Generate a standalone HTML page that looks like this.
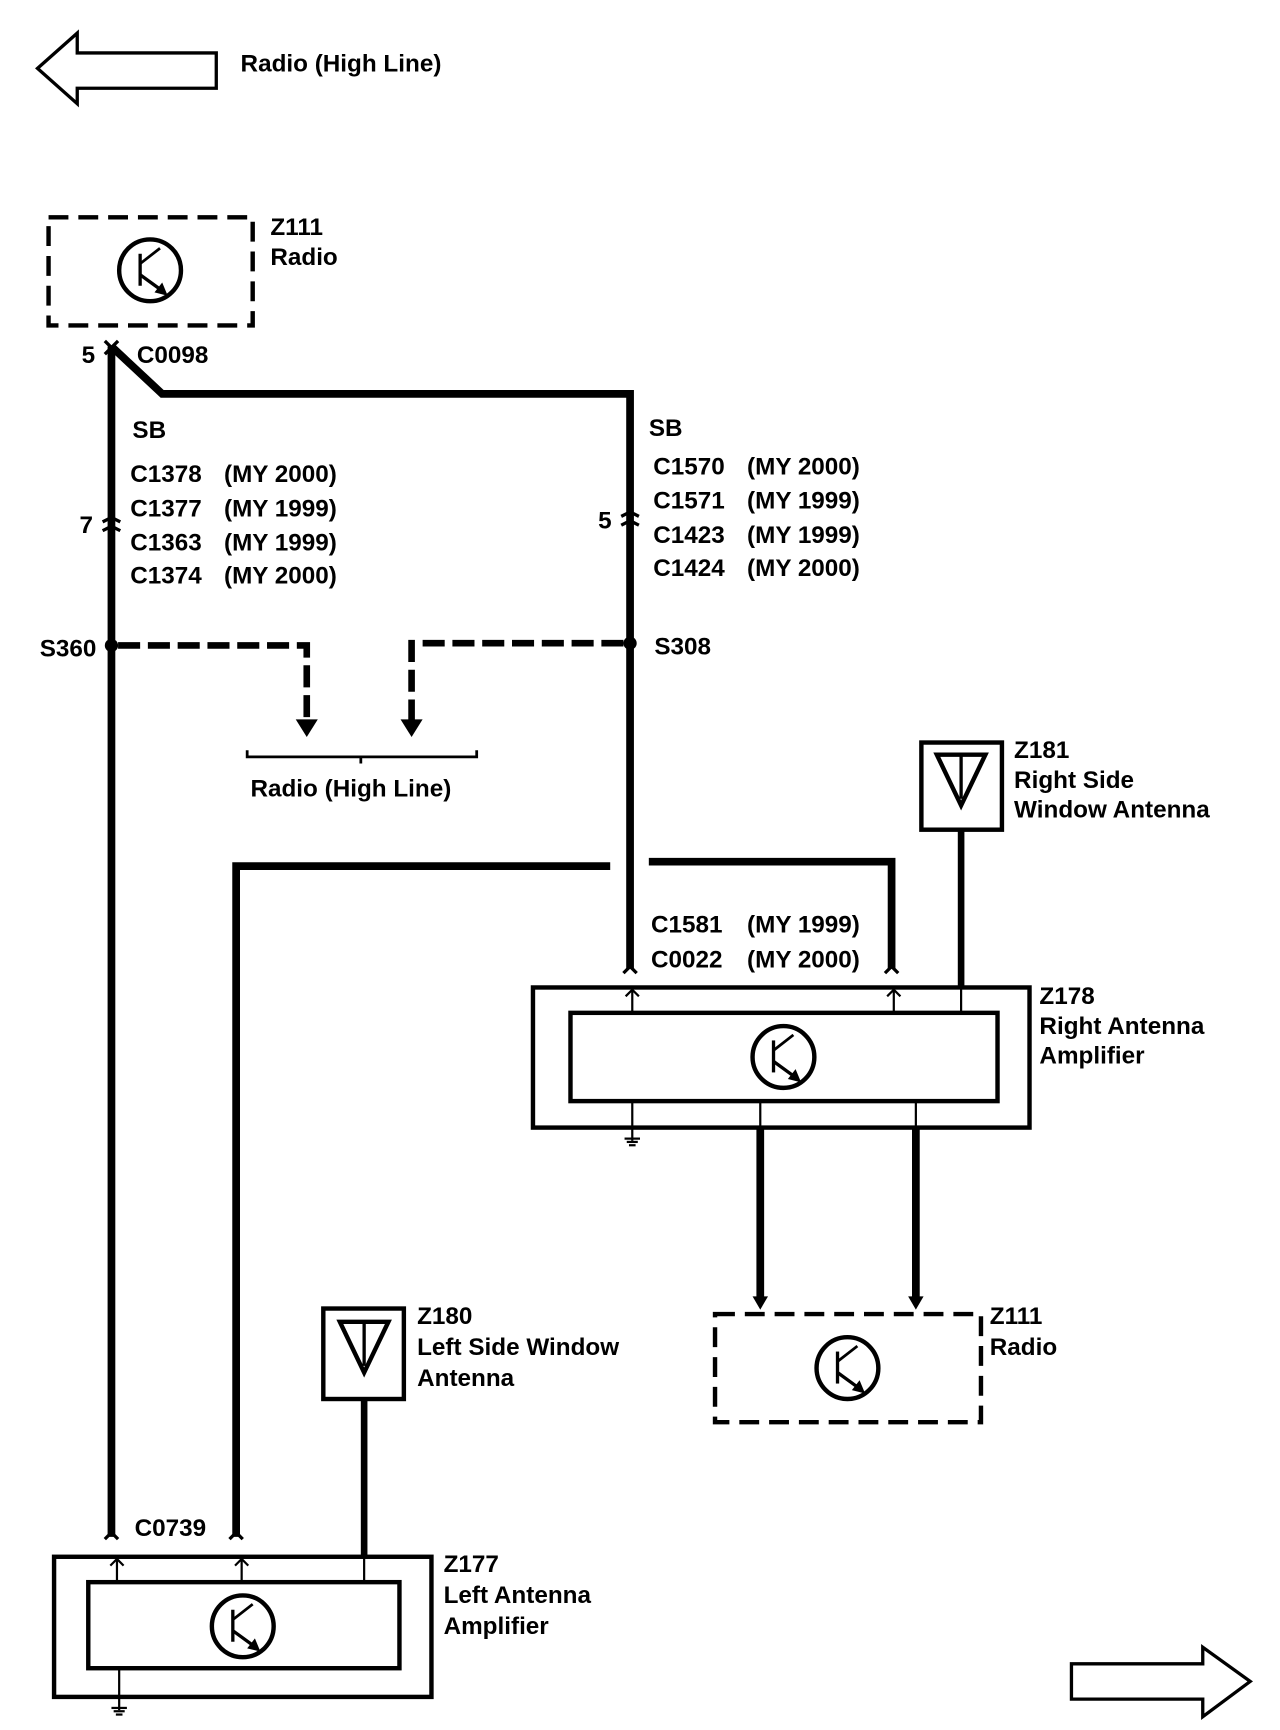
<!DOCTYPE html>
<html><head><meta charset="utf-8"><style>
html,body{margin:0;padding:0;background:#fff}
svg{display:block}
text{font-family:"Liberation Sans",sans-serif;font-weight:bold;font-size:22px;fill:#000}
</style></head><body>
<svg width="1280" height="1730" viewBox="0 0 1160 1568" preserveAspectRatio="none" xmlns="http://www.w3.org/2000/svg">
<defs>
<g id="tr">
<circle cx="0" cy="0" r="28" fill="none" stroke="#000" stroke-width="4"/>
<line x1="-9" y1="-15" x2="-9" y2="14" stroke="#000" stroke-width="3"/>
<line x1="-9" y1="-6" x2="9" y2="-20" stroke="#000" stroke-width="2.5"/>
<line x1="-9" y1="4" x2="13" y2="20" stroke="#000" stroke-width="3"/>
<polygon points="16,23 4,20 11,11" fill="#000"/>
</g>
<g id="ant">
<polygon points="-22,-26 22,-26 0,20" fill="none" stroke="#000" stroke-width="4"/>
<line x1="0" y1="-26" x2="0" y2="14" stroke="#000" stroke-width="3"/>
</g>
<g id="gnd">
<line x1="0" y1="0" x2="0" y2="12" stroke="#000" stroke-width="2"/>
<line x1="-7" y1="10" x2="7" y2="10" stroke="#000" stroke-width="2"/>
<line x1="-5" y1="13" x2="5" y2="13" stroke="#000" stroke-width="2"/>
<line x1="-3" y1="16" x2="3" y2="16" stroke="#000" stroke-width="2"/>
</g>
<g id="chev">
<path d="M-6,6 L0,0 L6,6" fill="none" stroke="#000" stroke-width="3"/>
</g>
</defs>

<polygon points="34,62 70,30 70,48 196,48 196,80 70,80 70,94" fill="none" stroke="#000" stroke-width="3"/>
<text x="218" y="65">Radio (High Line)</text>

<rect x="44" y="197" width="185" height="98" fill="none" stroke="#000" stroke-width="4" stroke-dasharray="18,9"/>
<use href="#tr" x="136" y="245"/>
<text x="245" y="213">Z111</text>
<text x="245" y="240">Radio</text>

<text x="74" y="329">5</text>
<text x="124" y="329">C0098</text>
<path d="M95,309 L107,321 M107,309 L95,321" stroke="#000" stroke-width="3"/>

<line x1="101" y1="314" x2="101" y2="1393" stroke="#000" stroke-width="7"/>
<polyline points="101,314 147,357 571,357 571,878" fill="none" stroke="#000" stroke-width="7"/>
<use href="#chev" x="101" y="1389"/>
<use href="#chev" x="571" y="876"/>

<text x="120" y="397">SB</text>
<text x="118" y="437">C1378</text><text x="203" y="437">(MY 2000)</text>
<text x="118" y="468">C1377</text><text x="203" y="468">(MY 1999)</text>
<text x="118" y="499">C1363</text><text x="203" y="499">(MY 1999)</text>
<text x="118" y="529">C1374</text><text x="203" y="529">(MY 2000)</text>
<text x="72" y="483">7</text>
<path d="M93,473 L101,469 L109,473 M93,481 L101,477 L109,481" fill="none" stroke="#000" stroke-width="3"/>

<text x="588" y="395">SB</text>
<text x="592" y="430">C1570</text><text x="677" y="430">(MY 2000)</text>
<text x="592" y="461">C1571</text><text x="677" y="461">(MY 1999)</text>
<text x="592" y="492">C1423</text><text x="677" y="492">(MY 1999)</text>
<text x="592" y="522">C1424</text><text x="677" y="522">(MY 2000)</text>
<text x="542" y="479">5</text>
<path d="M563,468 L571,464 L579,468 M563,476 L571,472 L579,476" fill="none" stroke="#000" stroke-width="3"/>

<circle cx="101" cy="585" r="6" fill="#000"/>
<text x="36" y="595">S360</text>
<polyline points="107,585 278,585 278,655" fill="none" stroke="#000" stroke-width="6" stroke-dasharray="20,7"/>
<polygon points="268,652 288,652 278,668" fill="#000"/>
<circle cx="571" cy="583" r="6" fill="#000"/>
<text x="593" y="593">S308</text>
<polyline points="565,583 373,583 373,655" fill="none" stroke="#000" stroke-width="6" stroke-dasharray="20,7"/>
<polygon points="363,652 383,652 373,668" fill="#000"/>
<path d="M224,680 L224,686 L432,686 L432,680 M327,686 L327,692" fill="none" stroke="#000" stroke-width="2.5"/>
<text x="227" y="722">Radio (High Line)</text>

<polyline points="214,1393 214,785 553,785" fill="none" stroke="#000" stroke-width="7"/>
<polyline points="588,781 808,781 808,878" fill="none" stroke="#000" stroke-width="7"/>
<use href="#chev" x="214" y="1389"/>
<use href="#chev" x="808" y="876"/>
<text x="590" y="845">C1581</text><text x="677" y="845">(MY 1999)</text>
<text x="590" y="877">C0022</text><text x="677" y="877">(MY 2000)</text>

<rect x="835" y="673" width="73" height="79" fill="none" stroke="#000" stroke-width="4"/>
<use href="#ant" x="871" y="710"/>
<line x1="871" y1="752" x2="871" y2="895" stroke="#000" stroke-width="6"/>
<line x1="871" y1="895" x2="871" y2="917" stroke="#000" stroke-width="2"/>
<text x="919" y="687">Z181</text>
<text x="919" y="714">Right Side</text>
<text x="919" y="741">Window Antenna</text>

<rect x="483" y="895" width="450" height="127" fill="none" stroke="#000" stroke-width="4"/>
<rect x="517" y="918" width="387" height="80" fill="none" stroke="#000" stroke-width="4"/>
<use href="#tr" x="710" y="958"/>
<line x1="573" y1="897" x2="573" y2="918" stroke="#000" stroke-width="2"/>
<path d="M567,903 L573,897 L579,903" fill="none" stroke="#000" stroke-width="2"/>
<line x1="810" y1="897" x2="810" y2="918" stroke="#000" stroke-width="2"/>
<path d="M804,903 L810,897 L816,903" fill="none" stroke="#000" stroke-width="2"/>
<line x1="573" y1="998" x2="573" y2="1022" stroke="#000" stroke-width="2"/>
<use href="#gnd" x="573" y="1022"/>
<line x1="689" y1="998" x2="689" y2="1022" stroke="#000" stroke-width="2"/>
<line x1="830" y1="998" x2="830" y2="1022" stroke="#000" stroke-width="2"/>
<line x1="689" y1="1022" x2="689" y2="1176" stroke="#000" stroke-width="7"/>
<line x1="830" y1="1022" x2="830" y2="1176" stroke="#000" stroke-width="7"/>
<polygon points="682,1175 696,1175 689,1187" fill="#000"/>
<polygon points="823,1175 837,1175 830,1187" fill="#000"/>
<text x="942" y="910">Z178</text>
<text x="942" y="937">Right Antenna</text>
<text x="942" y="964">Amplifier</text>

<rect x="648" y="1191" width="241" height="98" fill="none" stroke="#000" stroke-width="4" stroke-dasharray="18,9"/>
<use href="#tr" x="768" y="1240"/>
<text x="897" y="1200">Z111</text>
<text x="897" y="1228">Radio</text>

<rect x="293" y="1186" width="73" height="82" fill="none" stroke="#000" stroke-width="4"/>
<use href="#ant" x="330" y="1224"/>
<line x1="330" y1="1268" x2="330" y2="1410" stroke="#000" stroke-width="6"/>
<line x1="330" y1="1410" x2="330" y2="1434" stroke="#000" stroke-width="2"/>
<text x="378" y="1200">Z180</text>
<text x="378" y="1228">Left Side Window</text>
<text x="378" y="1256">Antenna</text>

<text x="122" y="1392">C0739</text>

<rect x="49" y="1411" width="342" height="127" fill="none" stroke="#000" stroke-width="4"/>
<rect x="80" y="1434" width="282" height="78" fill="none" stroke="#000" stroke-width="4"/>
<use href="#tr" x="220" y="1474"/>
<line x1="106" y1="1413" x2="106" y2="1434" stroke="#000" stroke-width="2"/>
<path d="M100,1419 L106,1413 L112,1419" fill="none" stroke="#000" stroke-width="2"/>
<line x1="219" y1="1413" x2="219" y2="1434" stroke="#000" stroke-width="2"/>
<path d="M213,1419 L219,1413 L225,1419" fill="none" stroke="#000" stroke-width="2"/>
<line x1="108" y1="1512" x2="108" y2="1538" stroke="#000" stroke-width="2"/>
<use href="#gnd" x="108" y="1538"/>
<text x="402" y="1425">Z177</text>
<text x="402" y="1453">Left Antenna</text>
<text x="402" y="1481">Amplifier</text>

<polygon points="971,1508 1090,1508 1090,1493 1133,1524 1090,1556 1090,1540 971,1540" fill="none" stroke="#000" stroke-width="3"/>
</svg>
</body></html>
